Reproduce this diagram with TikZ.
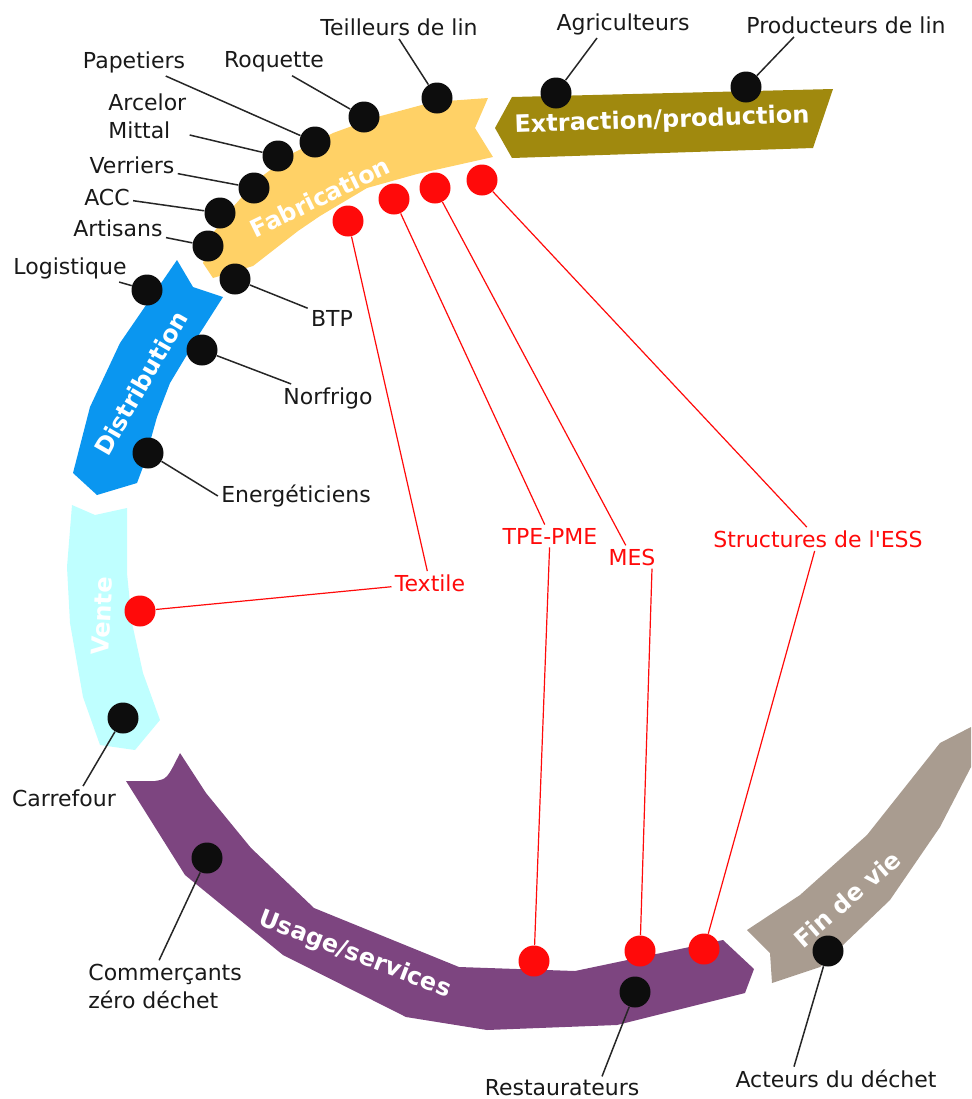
\documentclass[tikz,border=0pt]{standalone}
\usepackage{fontspec}
\setmainfont{DejaVu Sans}
\definecolor{extrcol}{HTML}{A0890E}
\definecolor{fabcol}{HTML}{FFD166}
\definecolor{distcol}{HTML}{0A96F0}
\definecolor{ventecol}{HTML}{BFFFFF}
\definecolor{usagecol}{HTML}{7D4580}
\definecolor{fdvcol}{HTML}{A99C90}
\definecolor{dotred}{HTML}{FF0A0A}

\begin{document}
\begin{tikzpicture}[
    x=0.5pt, y=-0.5pt,
    band/.style={text=white, font=\bfseries\fontsize{12}{14}\selectfont, inner sep=0pt},
    lab/.style={font=\fontsize{11}{14}\selectfont, text=black!90, inner sep=1.5pt},
    rlab/.style={lab, text=dotred},
    dot/.style={circle, fill=black!95, minimum size=15.5pt, inner sep=0pt},
    rdot/.style={dot, fill=dotred},
    link/.style={draw=black!85, line width=0.75pt},
    rlink/.style={draw=dotred, line width=0.6pt}
]
\useasboundingbox (0,0) rectangle (971,1099);

% the cycle
\fill[extrcol] (512,97) -- (833,89) -- (813,148) -- (512,158) -- (495,128) -- cycle;
\fill[fabcol] (488,98) -- (475,128) -- (493,157) -- (417,174) -- (367,188) -- (320,216)
    -- (298,231) -- (253,266) -- (213,278) -- (203,263) -- (213,233) -- (233,207)
    -- (257,180) -- (293,153) -- (333,133) -- (377,117) -- (433,102) -- cycle;
\fill[distcol] (177,260) -- (193,287) -- (223,297) -- (200,333) -- (170,383) -- (157,417)
    -- (143,467) -- (137,483) -- (97,495) -- (73,473) -- (90,407) -- (120,343) -- cycle;
\fill[ventecol] (72,505) -- (95,515) -- (127,508) -- (127,573) -- (132,623) -- (143,673)
    -- (160,720) -- (135,750) -- (100,745) -- (83,697) -- (70,623) -- (67,567) -- cycle;
\fill[usagecol] (126,781) -- (155,781) .. controls (167,779) .. (180,753) -- (206,793)
    -- (251,848) -- (314,908) -- (459,967) -- (575,971) -- (723,940) -- (754,969)
    -- (745,993) -- (617,1025) -- (487,1030) -- (406,1017) -- (283,955) -- (185,875) -- cycle;
\fill[fdvcol] (971,727) -- (940,743) -- (867,835) -- (800,895) -- (747,930) -- (770,953)
    -- (772,983) -- (820,967) -- (890,900) -- (940,827) -- (971,767) -- cycle;

\node[band, rotate=2] (extr) at (662,121) {Extraction/production};
\node[band, rotate=26] (fab) at (320,197) {Fabrication};
\node[band, rotate=60] (distr) at (141,383) {Distribution};
\node[band, rotate=87] (vente) at (102,616) {Vente};
\node[band, rotate=-21] (usage) at (355,955) {Usage/services};
\node[band, rotate=41] (fdv) at (847,899) {Fin de vie};

% acteurs
\node[lab] (teil) at (399,27) {Teilleurs de lin};
\node[lab] (agri) at (623,24) {Agriculteurs};
\node[lab] (prod) at (846,25) {Producteurs de lin};
\node[lab] (roq) at (274,62) {Roquette};
\node[lab] (pap) at (134,62) {Papetiers};
\node[lab, align=left, anchor=west] (arc) at (105,116) {Arcelor\\Mittal};
\node[lab] (ver) at (132,165) {Verriers};
\node[lab] (acc) at (107,197) {ACC};
\node[lab] (art) at (118,228) {Artisans};
\node[lab] (logi) at (70,268) {Logistique};
\node[lab] (btp) at (332,318) {BTP};
\node[lab] (norf) at (328,398) {Norfrigo};
\node[lab] (ener) at (296,496) {Energéticiens};
\node[lab] (carre) at (64,798) {Carrefour};
\node[lab, align=left, anchor=west] (com) at (85,986) {Commerçants\\zéro déchet};
\node[lab] (rest) at (562,1088) {Restaurateurs};
\node[lab] (act) at (836,1079) {Acteurs du déchet};

\node[rlab] (textile) at (430,583) {Textile};
\node[rlab] (tpe) at (550,536) {TPE-PME};
\node[rlab] (mes) at (632,557) {MES};
\node[rlab] (ess) at (818,539) {Structures de l\textquotesingle ESS};

\node[dot] (d-teil) at (437,98) {};
\node[dot] (d-agri) at (556,93) {};
\node[dot] (d-prod) at (746,87) {};
\node[dot] (d-roq) at (364,117) {};
\node[dot] (d-pap) at (315,142) {};
\node[dot] (d-arc) at (278,156) {};
\node[dot] (d-ver) at (254,188) {};
\node[dot] (d-acc) at (220,213) {};
\node[dot] (d-art) at (208,246) {};
\node[dot] (d-logi) at (147,290) {};
\node[dot] (d-btp) at (235,279) {};
\node[dot] (d-norf) at (202,350) {};
\node[dot] (d-ener) at (148,453) {};
\node[dot] (d-carre) at (123,718) {};
\node[dot] (d-com) at (207,858) {};
\node[dot] (d-rest) at (635,992) {};
\node[dot] (d-act) at (828,951) {};

\node[rdot] (r-tex1) at (348,221) {};
\node[rdot] (r-tpe1) at (394,199) {};
\node[rdot] (r-mes1) at (435,188) {};
\node[rdot] (r-ess1) at (482,180) {};
\node[rdot] (r-tex2) at (140,611) {};
\node[rdot] (r-tpe2) at (534,961) {};
\node[rdot] (r-mes2) at (640,951) {};
\node[rdot] (r-ess2) at (704,949) {};

\draw[link] (d-teil) -- (teil.south);
\draw[link] (d-agri) -- ([xshift=-13pt]agri.south);
\draw[link] (d-prod) -- ([xshift=-26pt]prod.south);
\draw[link] (d-roq) -- ([xshift=9pt]roq.south);
\draw[link] (d-pap) -- (pap);
\draw[link] (d-arc) -- ([yshift=-9.5pt]arc.east);
\draw[link] (d-ver) -- (ver);
\draw[link] (d-acc) -- (acc);
\draw[link] (d-art) -- (art);
\draw[link] (d-logi) -- (logi);
\draw[link] (d-btp) -- (btp);
\draw[link] (d-norf) -- (norf);
\draw[link] (d-ener) -- (ener.west);
\draw[link] (d-carre) -- ([xshift=9.5pt]carre.north);
\draw[link] (d-com) -- ([xshift=-3pt]com.north);
\draw[link] (d-rest) -- ([xshift=20pt]rest.north);
\draw[link] (d-act) -- ([xshift=-21pt]act.north);

\draw[rlink] (r-tex1) -- (textile);
\draw[rlink] (textile) -- (r-tex2);
\draw[rlink] (r-tpe1) -- (tpe);
\draw[rlink] (tpe) -- (r-tpe2);
\draw[rlink] (r-mes1) -- (mes);
\draw[rlink] (r-mes2) -- ([xshift=10pt]mes.south);
\draw[rlink] (r-ess1) -- (ess);
\draw[rlink] (ess) -- (r-ess2);

\end{tikzpicture}
\end{document}
